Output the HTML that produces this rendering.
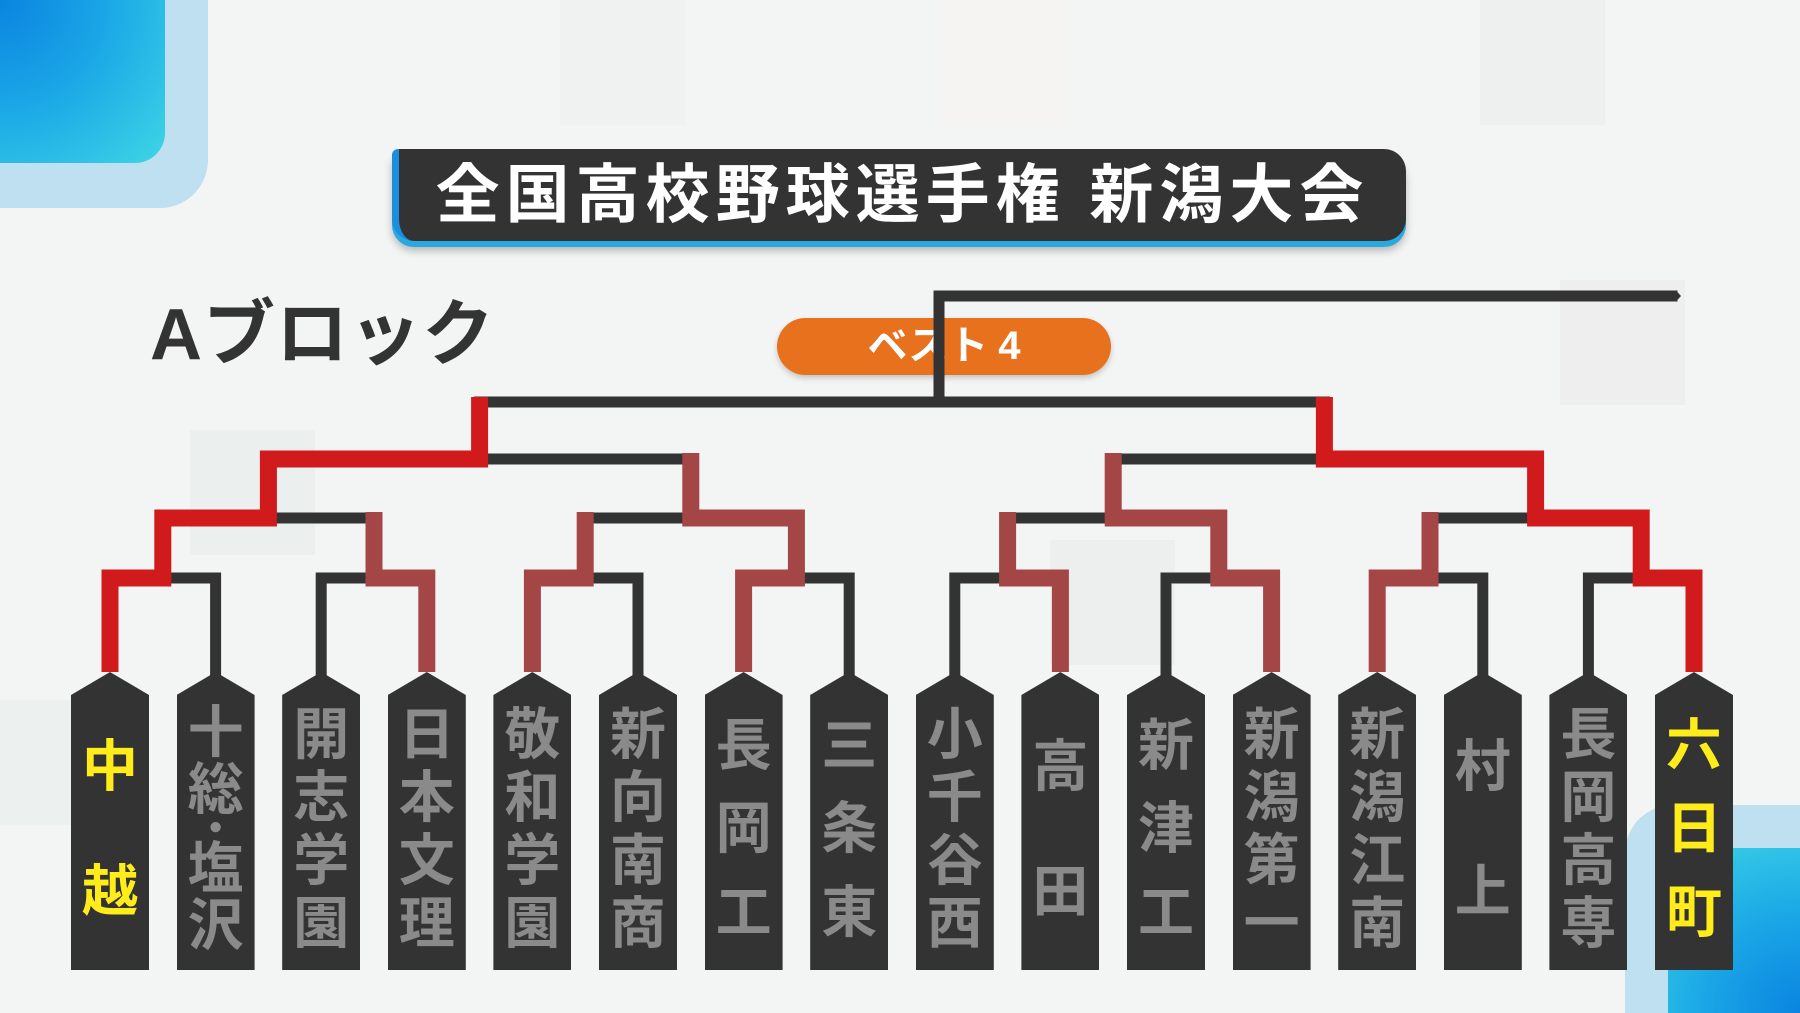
<!DOCTYPE html>
<html><head><meta charset="utf-8"><style>
html,body{margin:0;padding:0}
body{width:1800px;height:1013px;position:relative;overflow:hidden;background:#f3f5f5;font-family:"Liberation Sans","Noto Sans CJK JP",sans-serif}
.sq{position:absolute;width:125px;height:125px}
.tl{position:absolute;left:0;top:0;width:208px;height:208px;background:#bfe0f0;border-bottom-right-radius:48px}
.tl2{position:absolute;left:0;top:0;width:165px;height:163px;background:radial-gradient(circle at 0 0,#0a84e0 0,#1aa6e6 45%,#3ed6e6 100%);border-bottom-right-radius:30px}
.br{position:absolute;left:1625px;top:805px;width:175px;height:208px;background:#bfe0f0;border-top-left-radius:48px}
.br2{position:absolute;left:1668px;top:848px;width:132px;height:165px;background:radial-gradient(circle at 100% 100%,#0a84e0 0,#1aa6e6 45%,#3ed6e6 100%);border-top-left-radius:30px}
.title{position:absolute;left:392px;top:149px;width:1014px;height:92px;background:#333;border-radius:6px 22px 22px 22px;border-left:7px solid #1a8fe0;box-shadow:0 6px 0 #2aa8e0,0 10px 8px rgba(0,0,0,.25);color:#fff;font-weight:bold;font-size:64px;line-height:92px;text-align:center;letter-spacing:6px;box-sizing:border-box}
.ab{position:absolute;left:150px;top:295px;font-size:72px;font-weight:bold;color:#333;line-height:80px;letter-spacing:1px}
.pill{position:absolute;left:777px;top:318px;width:334px;height:57px;border-radius:29px;background:#e8711e;color:#fff;font-weight:bold;font-size:40px;line-height:57px;text-align:center;box-shadow:0 3px 6px rgba(0,0,0,.2)}
.tag{position:absolute;top:672px;width:78px;height:298px;background:#333;clip-path:polygon(50% 0,100% 23px,100% 100%,0 100%,0 23px)}
.tx{position:absolute;left:0;top:32px;width:78px;height:251px;display:flex;flex-direction:column;justify-content:space-around;align-items:center;color:#8a8a8a;font-weight:bold;font-size:56px;line-height:56px}
.tx span{display:block;height:56px}
.tx.y{color:#ffec1a}
.tx span.d{height:20px;line-height:20px;font-size:40px}
</style></head><body>
<div class="sq" style="left:560px;top:0;background:#f0f1f1"></div>
<div class="sq" style="left:940px;top:0;background:#f6f3f3"></div>
<div class="sq" style="left:1480px;top:0;background:#eef0f0"></div>
<div class="sq" style="left:190px;top:430px;background:#ebf0ee"></div>
<div class="sq" style="left:1050px;top:540px;background:#edefef"></div>
<div class="sq" style="left:1560px;top:280px;background:#eeeeee"></div>
<div class="sq" style="left:0;top:700px;background:#ecf1ef"></div>
<div class="tl"></div><div class="tl2"></div>
<div class="br"></div><div class="br2"></div>
<div class="title">全国高校野球選手権 新潟大会</div>
<div class="ab">Aブロック</div>
<div class="pill">ベスト<span style="margin-left:10px">4</span></div>
<svg width="1800" height="1013" style="position:absolute;left:0;top:0" fill="none" stroke-linecap="square" stroke-linejoin="miter">
<g stroke="#333" stroke-width="11">
<polyline points="215.6,672 215.6,578 162.8,578"/>
<polyline points="321.2,672 321.2,578 374,578"/>
<polyline points="638,672 638,578 585.2,578"/>
<polyline points="849.2,672 849.2,578 796.4,578"/>
<polyline points="954.8,672 954.8,578 1007.6,578"/>
<polyline points="1166,672 1166,578 1218.8,578"/>
<polyline points="1482.8,672 1482.8,578 1430,578"/>
<polyline points="1588.4,672 1588.4,578 1641.2,578"/>
<polyline points="374,518 268.4,518"/>
<polyline points="585.2,518 690.8,518"/>
<polyline points="1007.6,518 1113.2,518"/>
<polyline points="1430,518 1535.6,518"/>
<polyline points="690.8,459 479.6,459"/>
<polyline points="1113.2,459 1324.4,459"/>
<polyline points="479.6,402 1324.4,402"/>
<polyline points="939,402 939,296 1672,296"/>
</g>
<polygon points="1668,290.5 1676,290.5 1681,296 1676,301.5 1668,301.5" fill="#333"/>
<g stroke-width="17" stroke-linecap="butt">
<polyline stroke="#d01a1c" points="110,672 110,578 162.8,578 162.8,518 268.4,518 268.4,459 479.6,459 479.6,397"/>
<polyline stroke="#a44646" points="426.8,672 426.8,578 374,578 374,512"/>
<polyline stroke="#a44646" points="532.4,672 532.4,578 585.2,578 585.2,512"/>
<polyline stroke="#a44646" points="743.6,672 743.6,578 796.4,578 796.4,518 690.8,518 690.8,453"/>
<polyline stroke="#a44646" points="1060.4,672 1060.4,578 1007.6,578 1007.6,512"/>
<polyline stroke="#a44646" points="1271.6,672 1271.6,578 1218.8,578 1218.8,518 1113.2,518 1113.2,453"/>
<polyline stroke="#a44646" points="1377.2,672 1377.2,578 1430,578 1430,512"/>
<polyline stroke="#d01a1c" points="1694,672 1694,578 1641.2,578 1641.2,518 1535.6,518 1535.6,459 1324.4,459 1324.4,397"/>
</g>
</svg>
<div class="tag" style="left:71px"><div class="tx y"><span>中</span><span>越</span></div></div>
<div class="tag" style="left:176.6px"><div class="tx"><span>十</span><span>総</span><span class="d">・</span><span>塩</span><span>沢</span></div></div>
<div class="tag" style="left:282.2px"><div class="tx"><span>開</span><span>志</span><span>学</span><span>園</span></div></div>
<div class="tag" style="left:387.8px"><div class="tx"><span>日</span><span>本</span><span>文</span><span>理</span></div></div>
<div class="tag" style="left:493.4px"><div class="tx"><span>敬</span><span>和</span><span>学</span><span>園</span></div></div>
<div class="tag" style="left:599px"><div class="tx"><span>新</span><span>向</span><span>南</span><span>商</span></div></div>
<div class="tag" style="left:704.6px"><div class="tx"><span>長</span><span>岡</span><span>工</span></div></div>
<div class="tag" style="left:810.2px"><div class="tx"><span>三</span><span>条</span><span>東</span></div></div>
<div class="tag" style="left:915.8px"><div class="tx"><span>小</span><span>千</span><span>谷</span><span>西</span></div></div>
<div class="tag" style="left:1021.4px"><div class="tx"><span>高</span><span>田</span></div></div>
<div class="tag" style="left:1127px"><div class="tx"><span>新</span><span>津</span><span>工</span></div></div>
<div class="tag" style="left:1232.6px"><div class="tx"><span>新</span><span>潟</span><span>第</span><span>一</span></div></div>
<div class="tag" style="left:1338.2px"><div class="tx"><span>新</span><span>潟</span><span>江</span><span>南</span></div></div>
<div class="tag" style="left:1443.8px"><div class="tx"><span>村</span><span>上</span></div></div>
<div class="tag" style="left:1549.4px"><div class="tx"><span>長</span><span>岡</span><span>高</span><span>専</span></div></div>
<div class="tag" style="left:1655px"><div class="tx y"><span>六</span><span>日</span><span>町</span></div></div>
</body></html>
